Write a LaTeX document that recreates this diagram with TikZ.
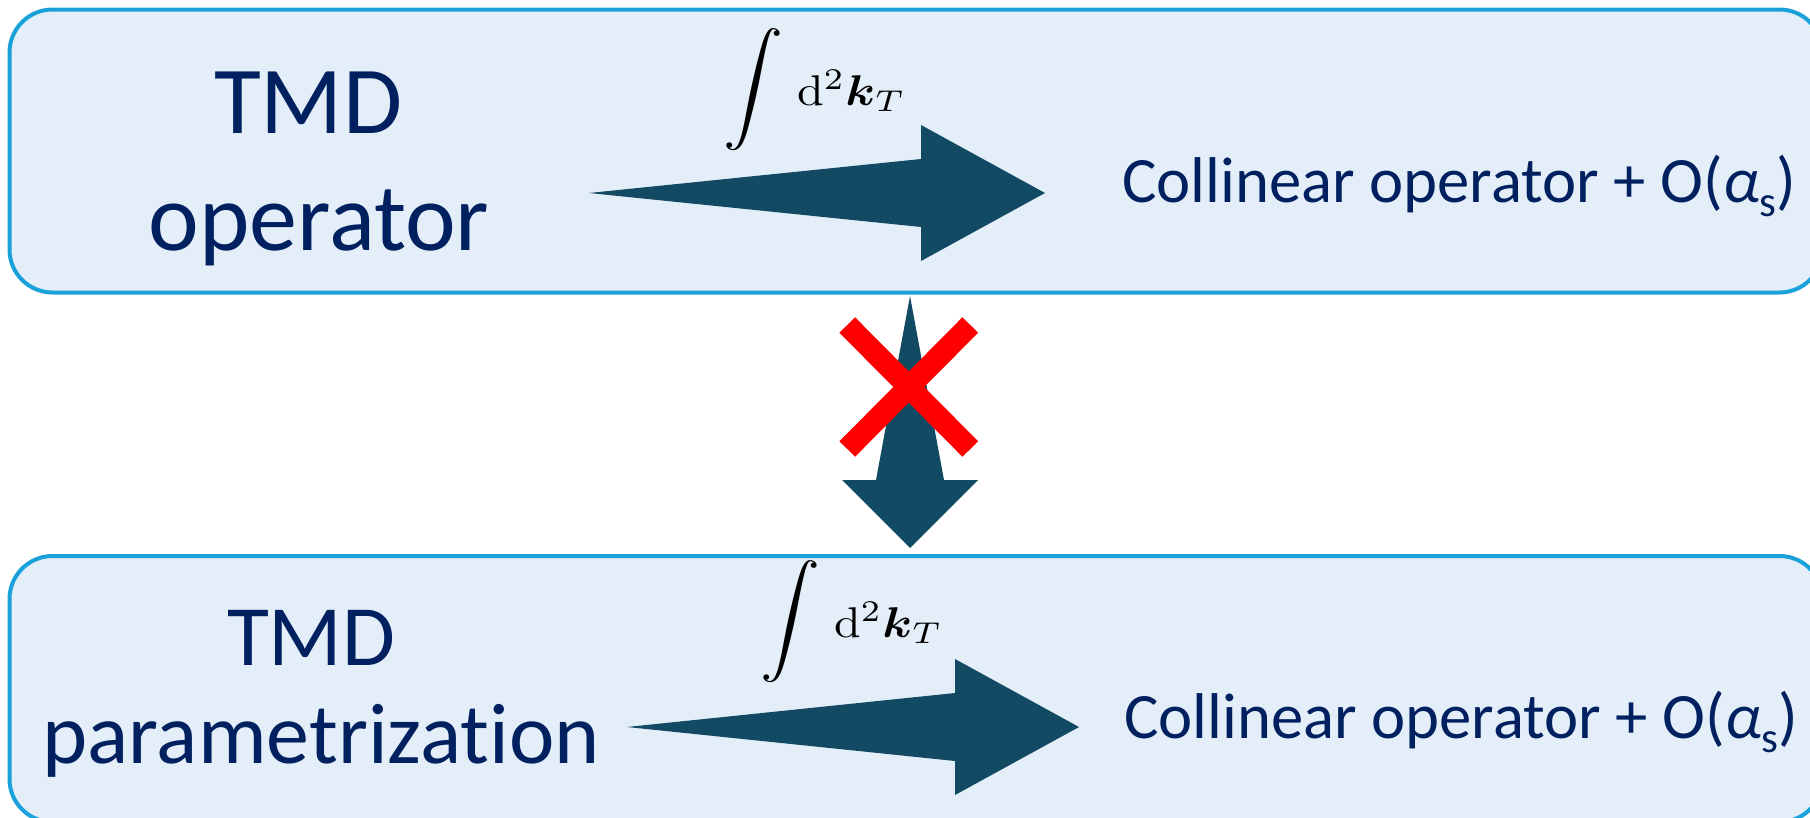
\documentclass[tikz,border=0pt]{standalone}
\usepackage{amsmath}
\usepackage[no-math]{fontspec}
\setmainfont{Carlito}[Ligatures=NoCommon]
\usetikzlibrary{calc}
\definecolor{boxline}{HTML}{1BA1DA}
\definecolor{boxfill}{HTML}{E3EEF8}
\definecolor{navy}{HTML}{002060}
\definecolor{arrowcol}{HTML}{134A63}
\definecolor{crossred}{HTML}{FF0000}
\tikzset{
  panel/.style={draw=boxline, fill=boxfill, line width=4pt, rounded corners=43pt, anchor=north west, inner sep=0pt},
  maintext/.style={text=navy, align=center, inner sep=0pt},
  sidetext/.style={text=navy, inner sep=0pt, anchor=base west, font=\fontsize{64.7}{70}\selectfont},
  mathlabel/.style={text=black, inner sep=0pt, anchor=base west, font=\fontsize{10}{12}\selectfont},
  blockarrow/.style={fill=arrowcol},
  crossbar/.style={draw=crossred, line width=22pt, line cap=butt}
}
\newcommand{\myHArrow}[2]{%
  \fill[blockarrow] (#1) -- ($(#2)+(-124,-34)$) -- ($(#2)+(-124,-68)$) -- (#2)
    -- ($(#2)+(-124,68)$) -- ($(#2)+(-124,34)$) -- cycle;}
\newcommand{\intlabel}{\raisebox{2pt}{\scalebox{6.0}[5.5]{$\displaystyle\int$}}\hspace{14pt}\scalebox{4.8}[4.3]{$\mathrm{d}^2\boldsymbol{k}_T$}}
\newcommand{\alphas}{\textit{α}\raisebox{-14pt}{\fontsize{43}{43}\selectfont s}}
\begin{document}
\begin{tikzpicture}[x=1pt,y=-1pt]
\useasboundingbox (0,0) rectangle (1810,817);
\clip (0,0) rectangle (1810,817);
% panels
\node[panel, minimum width=1813pt, minimum height=283pt] (toppanel) at (7.5,7.5) {};
\node[panel, minimum width=1813pt, minimum height=266pt] (botpanel) at (7.5,554) {};
% texts
\node[maintext, font=\fontsize{96}{117}\selectfont, anchor=base] (tmdop) at (319,250) {TMD\hspace*{0.226em}\\operator};
\node[maintext, font=\fontsize{86}{98}\selectfont, anchor=base] (tmdpar) at (321,763) {TMD\hspace*{0.226em}\\parametrization};
\node[sidetext] (coll1) at (1122,202) {Collinear operator + O(\alphas)};
\node[sidetext] (coll2) at (1124,738) {Collinear operator + O(\alphas)};
\node[mathlabel] (lab1) at (723,105) {\intlabel};
\node[mathlabel] (lab2) at (760,637) {\intlabel};
% horizontal block arrows
\coordinate (a1tail) at (589,193);
\coordinate (a1tip) at (1045,193);
\coordinate (a2tail) at (627,727);
\coordinate (a2tip) at (1079,727);
\myHArrow{a1tail}{a1tip}
\myHArrow{a2tail}{a2tip}
% vertical block arrow
\coordinate (vtop) at (910,296);
\coordinate (vtip) at (910,548);
\fill[blockarrow] (vtop) -- ($(vtip)+(34,-68)$) -- ($(vtip)+(68,-68)$) -- (vtip)
  -- ($(vtip)+(-68,-68)$) -- ($(vtip)+(-34,-68)$) -- cycle;
% red cross
\coordinate (xc) at (908.75,387);
\draw[crossbar] ($(xc)+(-61.5,-62)$) -- ($(xc)+(61.5,62)$);
\draw[crossbar] ($(xc)+(61.5,-62)$) -- ($(xc)+(-61.5,62)$);
\end{tikzpicture}
\end{document}
